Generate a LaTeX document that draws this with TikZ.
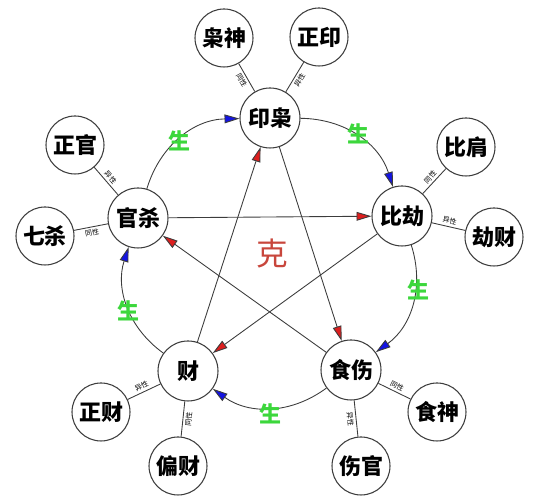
\documentclass[tikz,border=0pt]{standalone}
\usepackage{fontspec}
\usepackage{xcolor}
\usepackage{tikz}
\usetikzlibrary{arrows.meta}
\newfontfamily\cjk{Noto Sans CJK SC}

\definecolor{shenggreen}{RGB}{60,215,60}
\definecolor{kered}{RGB}{200,70,60}
\definecolor{tipred}{RGB}{220,30,30}
\definecolor{tipblue}{RGB}{20,20,225}
\definecolor{linegray}{RGB}{60,60,60}

\tikzset{
  god/.style={circle, draw=linegray, line width=0.6pt, minimum size=1.2cm, inner sep=0pt, font=\cjk\bfseries\fontsize{12.5}{12.5}\selectfont},
  sub/.style={circle, draw=linegray, line width=0.6pt, minimum size=1.16cm, inner sep=0pt, font=\cjk\bfseries\fontsize{12.5}{12.5}\selectfont},
  link/.style={draw=linegray, line width=0.5pt},
  tag/.style={font=\cjk\fontsize{4}{4}\selectfont, sloped, midway, inner sep=1.2pt},
  sheng/.style={-{Triangle[length=8.5pt,width=5pt,fill=tipblue]}, draw=linegray, line width=0.5pt},
  ke/.style={-{Triangle[length=8.5pt,width=5pt,fill=tipred]}, draw=linegray, line width=0.5pt},
  shenglabel/.style={text=shenggreen, font=\cjk\bfseries\fontsize{12.5}{12.5}\selectfont},
  kelabel/.style={text=kered, font=\cjk\fontsize{18}{18}\selectfont}
}

\begin{document}
\begin{tikzpicture}
\useasboundingbox (0,0) rectangle (10.82,10);

% Five main nodes
\node[god] (yinxiao)  at (5.40,7.64) {印枭};
\node[god] (bijie)    at (8.04,5.68) {比劫};
\node[god] (shishang) at (7.02,2.60) {食伤};
\node[god] (cai)      at (3.76,2.58) {财};
\node[god] (guansha)  at (2.76,5.64) {官杀};

% Outer nodes
\node[sub] (xiaoshen)  at (4.48,9.24) {枭神};
\node[sub] (zhengyin)  at (6.38,9.26) {正印};
\node[sub] (bijian)    at (9.32,7.06) {比肩};
\node[sub] (jiecai)    at (9.88,5.26) {劫财};
\node[sub] (zhengguan) at (1.50,7.10) {正官};
\node[sub] (qisha)     at (0.90,5.28) {七杀};
\node[sub] (shishen)   at (8.74,1.76) {食神};
\node[sub] (shangguan) at (7.22,0.68) {伤官};
\node[sub] (zhengcai)  at (2.02,1.76) {正财};
\node[sub] (piancai)   at (3.56,0.68) {偏财};

% Links with tags
\foreach \a/\b/\txt/\s in {yinxiao/xiaoshen/同性/below, yinxiao/zhengyin/异性/below,
    bijie/bijian/同性/above, bijie/jiecai/异性/above,
    guansha/zhengguan/异性/above, guansha/qisha/同性/below,
    shishang/shishen/同性/above, shishang/shangguan/异性/below,
    cai/zhengcai/异性/above, cai/piancai/同性/below}
  \draw[link] (\a) -- node[tag, \s] {\txt} (\b);

% Sheng cycle
\foreach \a/\b in {guansha/yinxiao, yinxiao/bijie, bijie/shishang, shishang/cai, cai/guansha}
  \draw[sheng] (\a) to[bend left=36] (\b);

% Ke star
\foreach \a/\b in {guansha/bijie, bijie/cai, cai/yinxiao, yinxiao/shishang, shishang/guansha}
  \draw[ke] (\a) -- (\b);

% Labels
\foreach \x/\y [count=\i] in {3.58/7.18, 7.16/7.32, 8.36/4.20, 5.40/1.72, 2.56/3.78}
  \node[shenglabel] (sheng\i) at (\x,\y) {生};
\node[kelabel] (ke) at (5.44,4.92) {克};
\end{tikzpicture}
\end{document}
